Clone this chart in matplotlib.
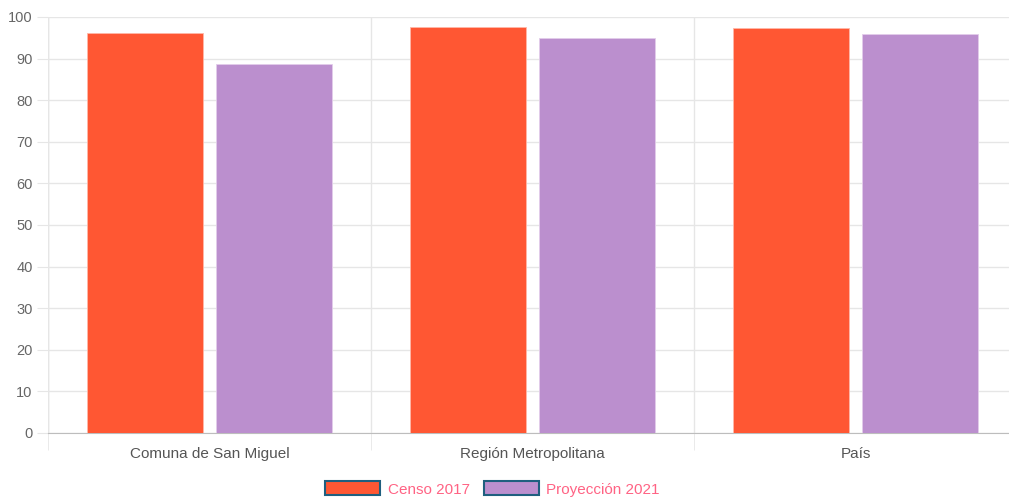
import numpy as np
import matplotlib.pyplot as plt
from matplotlib.patches import Patch
from matplotlib.ticker import FixedLocator

categories = ['Comuna de San Miguel', 'Región Metropolitana', 'País']
censo_2017 = [96.2, 97.7, 97.4]
proyeccion_2021 = [88.8, 94.9, 95.9]
series_names = ['Censo 2017', 'Proyección 2021']
colors = ['#FF5733', '#BB8FCE']

plt.rcParams['font.family'] = ['Liberation Sans', 'DejaVu Sans']

fig = plt.figure(figsize=(10.09, 5.0), dpi=100)
# plot area runs a little past the right edge of the picture, as in the original
ax = fig.add_axes([48 / 1009, 1 - 433 / 500, 969 / 1009, 416 / 500])

x = np.arange(len(categories))
w = 0.36
ax.bar(x - 0.2, censo_2017, w, color=colors[0], edgecolor='#ffb8a8', linewidth=0.6, zorder=3)
ax.bar(x + 0.2, proyeccion_2021, w, color=colors[1], edgecolor='#e2cdea', linewidth=0.6, zorder=3)

ax.set_xlim(-0.5, len(categories) - 0.5)
ax.set_ylim(0, 100)
ax.set_yticks(np.arange(0, 101, 10))
ax.set_xticks(x)
ax.set_xticklabels(categories)
ax.xaxis.set_minor_locator(FixedLocator(np.arange(-0.5, len(categories) - 0.5, 1.0)))

ax.grid(axis='y', color='#e6e6e6', linewidth=1, zorder=0)
ax.grid(axis='x', which='minor', color='#e6e6e6', linewidth=1, zorder=0)

for s in ['top', 'right', 'left']:
    ax.spines[s].set_visible(False)
ax.spines['bottom'].set_color('#bdbdbd')
ax.axvline(-0.5, color='#e0e0e0', linewidth=1, zorder=1)

ax.tick_params(axis='y', length=8, color='#e6e6e6', labelsize=10.5, labelcolor='#666666', pad=3)
ax.tick_params(axis='x', which='major', length=0, labelsize=11, labelcolor='#555555', pad=10)
ax.tick_params(axis='x', which='minor', length=12, color='#e6e6e6')

handles = [Patch(facecolor=c, edgecolor='#1f5f7f', linewidth=1.5) for c in colors]
leg = fig.legend(handles, series_names, loc='center', bbox_to_anchor=(0.488, 0.022),
                 ncol=2, frameon=False, fontsize=11, handlelength=3.6, handleheight=1.0,
                 columnspacing=0.9, handletextpad=0.5)
for t in leg.get_texts():
    t.set_color('#ff6384')

fig.savefig('out.png', dpi=100)
